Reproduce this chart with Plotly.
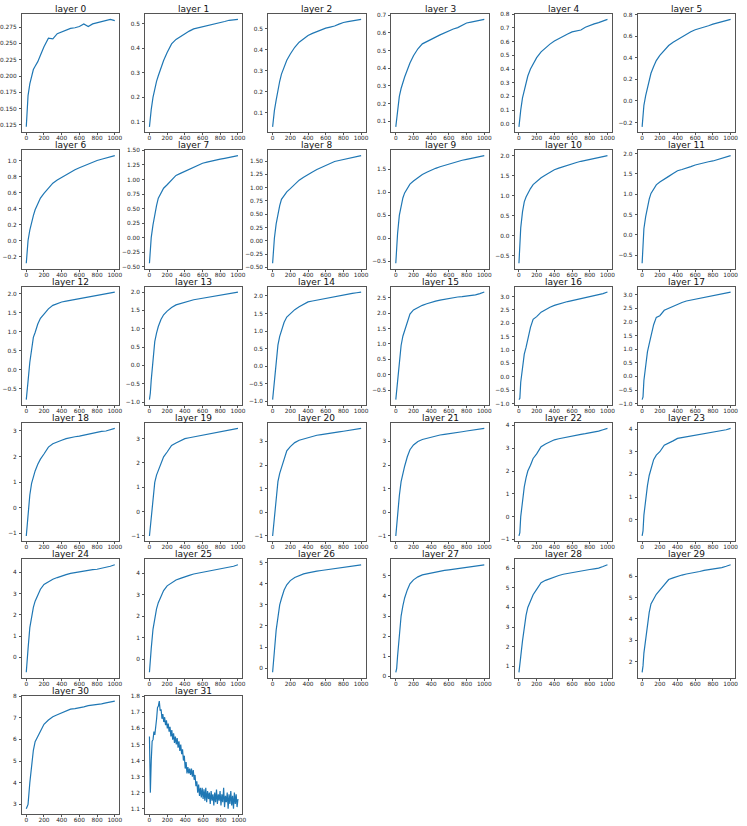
import plotly.graph_objects as go

# training step at which each layer was sampled
steps = [0, 10, 20, 40, 60, 80, 100, 130, 160, 200, 250, 300, 350, 400, 450,
         500, 550, 600, 650, 700, 750, 800, 850, 900, 950, 1000]
steps_dense = list(range(0, 1000, 10))

layer0 = [0.122, 0.150, 0.170, 0.188, 0.200, 0.210, 0.215, 0.222, 0.232, 0.245, 0.258, 0.257, 0.265,
          0.268, 0.271, 0.273, 0.274, 0.276, 0.280, 0.276, 0.280, 0.282, 0.284, 0.285, 0.287, 0.285]
layer1 = [0.080, 0.120, 0.150, 0.200, 0.235, 0.265, 0.288, 0.320, 0.350, 0.383, 0.418, 0.436, 0.448,
          0.459, 0.470, 0.479, 0.483, 0.486, 0.490, 0.496, 0.500, 0.504, 0.509, 0.514, 0.516, 0.518]
layer2 = [0.033, 0.080, 0.110, 0.160, 0.210, 0.250, 0.284, 0.320, 0.350, 0.380, 0.412, 0.436, 0.453,
          0.468, 0.478, 0.487, 0.495, 0.503, 0.508, 0.513, 0.522, 0.530, 0.534, 0.538, 0.541, 0.545]
layer3 = [0.068, 0.120, 0.170, 0.240, 0.285, 0.320, 0.350, 0.390, 0.430, 0.471, 0.510, 0.538, 0.552,
          0.563, 0.576, 0.589, 0.601, 0.614, 0.622, 0.630, 0.645, 0.656, 0.661, 0.666, 0.671, 0.677]
layer4 = [-0.022, 0.050, 0.100, 0.190, 0.250, 0.300, 0.349, 0.400, 0.440, 0.483, 0.525, 0.556, 0.582,
          0.605, 0.624, 0.641, 0.656, 0.671, 0.678, 0.685, 0.705, 0.720, 0.730, 0.739, 0.750, 0.763]
layer5 = [-0.240, -0.120, -0.040, 0.050, 0.130, 0.200, 0.257, 0.320, 0.375, 0.424, 0.475, 0.515, 0.545,
          0.570, 0.597, 0.622, 0.642, 0.661, 0.672, 0.683, 0.698, 0.713, 0.725, 0.737, 0.748, 0.758]
layer6 = [-0.284, -0.100, 0.000, 0.130, 0.230, 0.310, 0.384, 0.460, 0.530, 0.590, 0.660, 0.716, 0.755,
          0.790, 0.825, 0.860, 0.885, 0.910, 0.935, 0.960, 0.980, 1.000, 1.015, 1.030, 1.045, 1.060]
layer7 = [-0.440, -0.150, 0.000, 0.220, 0.400, 0.550, 0.680, 0.780, 0.850, 0.910, 0.995, 1.070, 1.105,
          1.140, 1.175, 1.210, 1.245, 1.280, 1.300, 1.320, 1.335, 1.350, 1.365, 1.380, 1.395, 1.410]
layer8 = [-0.420, -0.100, 0.050, 0.320, 0.520, 0.660, 0.780, 0.860, 0.920, 0.980, 1.060, 1.140, 1.195,
          1.250, 1.295, 1.340, 1.380, 1.420, 1.455, 1.490, 1.510, 1.530, 1.550, 1.570, 1.585, 1.600]
layer9 = [-0.540, -0.200, 0.100, 0.500, 0.720, 0.880, 0.990, 1.100, 1.180, 1.250, 1.330, 1.390, 1.440,
          1.490, 1.525, 1.560, 1.590, 1.620, 1.650, 1.680, 1.700, 1.720, 1.740, 1.760, 1.780, 1.800]
layer10 = [-0.680, -0.200, 0.200, 0.600, 0.850, 0.970, 1.070, 1.180, 1.280, 1.360, 1.450, 1.520, 1.590,
           1.650, 1.690, 1.730, 1.765, 1.800, 1.830, 1.860, 1.880, 1.900, 1.925, 1.950, 1.975, 2.000]
layer11 = [-0.700, -0.250, 0.150, 0.450, 0.680, 0.880, 1.020, 1.140, 1.230, 1.300, 1.380, 1.440, 1.510,
           1.580, 1.610, 1.640, 1.680, 1.720, 1.750, 1.780, 1.800, 1.820, 1.850, 1.880, 1.910, 1.950]
layer12 = [-0.780, -0.600, -0.300, 0.200, 0.600, 0.850, 0.980, 1.200, 1.350, 1.470, 1.600, 1.690, 1.740,
           1.780, 1.800, 1.820, 1.850, 1.880, 1.895, 1.910, 1.935, 1.960, 1.980, 2.000, 2.020, 2.040]
layer13 = [-0.930, -0.750, -0.400, 0.250, 0.650, 0.880, 1.060, 1.250, 1.380, 1.480, 1.580, 1.650, 1.690,
           1.720, 1.755, 1.790, 1.810, 1.830, 1.855, 1.880, 1.895, 1.910, 1.930, 1.950, 1.975, 2.000]
layer14 = [-0.950, -0.700, -0.350, 0.200, 0.600, 0.850, 1.020, 1.250, 1.400, 1.500, 1.610, 1.690, 1.760,
           1.830, 1.855, 1.880, 1.910, 1.940, 1.965, 1.990, 2.005, 2.020, 2.045, 2.070, 2.090, 2.110]
layer15 = [-0.800, -0.500, -0.100, 0.500, 0.950, 1.250, 1.450, 1.750, 1.970, 2.100, 2.180, 2.250, 2.300,
           2.350, 2.385, 2.420, 2.450, 2.480, 2.500, 2.520, 2.535, 2.550, 2.570, 2.590, 2.630, 2.680]
layer16 = [-0.850, -0.800, -0.200, 0.450, 0.850, 1.100, 1.400, 1.850, 2.150, 2.250, 2.420, 2.520, 2.600,
           2.670, 2.725, 2.780, 2.815, 2.850, 2.885, 2.920, 2.960, 3.000, 3.030, 3.060, 3.110, 3.170]
layer17 = [-0.850, -0.750, -0.150, 0.500, 0.900, 1.200, 1.500, 1.900, 2.170, 2.230, 2.430, 2.500, 2.580,
           2.660, 2.715, 2.770, 2.805, 2.840, 2.875, 2.910, 2.940, 2.970, 3.005, 3.040, 3.070, 3.100]
layer18 = [-1.100, -0.700, -0.200, 0.500, 0.950, 1.250, 1.440, 1.700, 1.900, 2.100, 2.370, 2.500, 2.580,
           2.640, 2.700, 2.750, 2.775, 2.800, 2.840, 2.880, 2.925, 2.970, 2.985, 3.000, 3.050, 3.100]
layer19 = [-1.000, -0.600, -0.100, 0.600, 1.200, 1.500, 1.690, 2.000, 2.250, 2.450, 2.720, 2.820, 2.910,
           3.000, 3.035, 3.070, 3.105, 3.140, 3.170, 3.200, 3.240, 3.280, 3.300, 3.320, 3.370, 3.420]
layer20 = [-1.000, -0.600, -0.100, 0.600, 1.300, 1.650, 1.900, 2.300, 2.600, 2.780, 2.950, 3.050, 3.100,
           3.180, 3.220, 3.260, 3.290, 3.310, 3.350, 3.370, 3.400, 3.430, 3.460, 3.480, 3.510, 3.550]
layer21 = [-1.000, -0.500, 0.000, 0.700, 1.300, 1.700, 1.950, 2.350, 2.650, 2.850, 3.000, 3.080, 3.130,
           3.200, 3.240, 3.270, 3.300, 3.320, 3.350, 3.380, 3.410, 3.440, 3.460, 3.490, 3.520, 3.550]
layer22 = [-0.850, -0.700, 0.000, 0.800, 1.300, 1.700, 2.000, 2.250, 2.550, 2.750, 3.070, 3.190, 3.290,
           3.370, 3.415, 3.460, 3.490, 3.520, 3.565, 3.610, 3.640, 3.670, 3.710, 3.750, 3.810, 3.870]
layer23 = [-0.720, -0.500, 0.200, 1.000, 1.500, 1.950, 2.260, 2.650, 2.850, 3.000, 3.290, 3.370, 3.480,
           3.590, 3.625, 3.660, 3.695, 3.730, 3.755, 3.780, 3.810, 3.840, 3.875, 3.910, 3.970, 4.030]
layer24 = [-0.700, -0.300, 0.400, 1.400, 2.000, 2.350, 2.640, 2.950, 3.200, 3.430, 3.560, 3.670, 3.750,
           3.830, 3.890, 3.950, 3.990, 4.030, 4.065, 4.100, 4.120, 4.140, 4.180, 4.220, 4.280, 4.350]
layer25 = [-0.600, -0.200, 0.500, 1.400, 2.000, 2.350, 2.640, 2.950, 3.200, 3.420, 3.560, 3.690, 3.770,
           3.850, 3.910, 3.970, 4.010, 4.050, 4.090, 4.130, 4.170, 4.210, 4.235, 4.260, 4.330, 4.400]
layer26 = [-0.200, 0.200, 0.800, 1.800, 2.500, 3.000, 3.300, 3.700, 3.950, 4.150, 4.300, 4.400, 4.470,
           4.520, 4.570, 4.600, 4.630, 4.660, 4.700, 4.720, 4.750, 4.780, 4.800, 4.830, 4.860, 4.900]
layer27 = [0.200, 0.400, 1.000, 2.200, 3.000, 3.500, 3.900, 4.300, 4.600, 4.800, 4.950, 5.050, 5.100,
           5.150, 5.200, 5.230, 5.270, 5.300, 5.330, 5.360, 5.380, 5.410, 5.440, 5.470, 5.500, 5.550]
layer28 = [0.700, 1.000, 1.500, 2.300, 3.000, 3.600, 4.000, 4.350, 4.650, 4.920, 5.260, 5.380, 5.470,
           5.560, 5.625, 5.690, 5.735, 5.780, 5.820, 5.860, 5.895, 5.930, 5.965, 6.000, 6.080, 6.170]
layer29 = [1.500, 1.800, 2.400, 3.100, 3.700, 4.300, 4.700, 4.950, 5.150, 5.350, 5.600, 5.840, 5.920,
           6.000, 6.050, 6.100, 6.130, 6.160, 6.215, 6.270, 6.295, 6.320, 6.360, 6.400, 6.460, 6.530]
layer30 = [2.800, 2.900, 3.000, 4.000, 4.900, 5.500, 5.900, 6.150, 6.400, 6.700, 6.900, 7.050, 7.140,
           7.230, 7.315, 7.400, 7.425, 7.450, 7.505, 7.560, 7.580, 7.600, 7.645, 7.690, 7.730, 7.770]
# the last layer is noisy, sampled every 10 steps
layer31 = [1.55, 1.20, 1.40, 1.52, 1.53, 1.58, 1.56, 1.64, 1.66, 1.73,
           1.74, 1.77, 1.71, 1.72, 1.66, 1.69, 1.64, 1.67, 1.62, 1.65,
           1.60, 1.63, 1.58, 1.61, 1.55, 1.59, 1.53, 1.57, 1.51, 1.55,
           1.50, 1.54, 1.48, 1.52, 1.46, 1.50, 1.44, 1.47, 1.40, 1.43,
           1.35, 1.39, 1.32, 1.36, 1.32, 1.35, 1.31, 1.35, 1.30, 1.34,
           1.28, 1.31, 1.24, 1.27, 1.20, 1.25, 1.18, 1.23, 1.17, 1.23,
           1.16, 1.22, 1.15, 1.23, 1.14, 1.21, 1.16, 1.20, 1.13, 1.21,
           1.15, 1.19, 1.12, 1.20, 1.14, 1.22, 1.13, 1.19, 1.15, 1.21,
           1.12, 1.19, 1.14, 1.23, 1.11, 1.18, 1.14, 1.20, 1.10, 1.19,
           1.13, 1.21, 1.12, 1.18, 1.10, 1.20, 1.13, 1.19, 1.11, 1.16]

layers = [layer0, layer1, layer2, layer3, layer4, layer5, layer6, layer7, layer8, layer9,
          layer10, layer11, layer12, layer13, layer14, layer15, layer16, layer17, layer18, layer19,
          layer20, layer21, layer22, layer23, layer24, layer25, layer26, layer27, layer28, layer29,
          layer30, layer31]

# y tick spacing and label format of every panel
y_dtick = [0.025, 0.1, 0.1, 0.1, 0.1, 0.2, 0.2, 0.25, 0.25, 0.5,
           0.5, 0.5, 0.5, 0.5, 0.5, 0.5, 0.5, 0.5, 1, 1,
           1, 1, 1, 1, 1, 1, 1, 1, 1, 1,
           1, 0.1]
y_format = [".3f", ".1f", ".1f", ".1f", ".1f", ".1f", ".1f", ".2f", ".2f", ".1f",
            ".1f", ".1f", ".1f", ".1f", ".1f", ".1f", ".1f", ".1f", "d", "d",
            "d", "d", "d", "d", "d", "d", "d", "d", "d", "d",
            "d", ".1f"]

W, H = 747, 826
COL_LEFT = 21
COL_STEP = 124
PANEL_W = 98
ROW_TOP = 11
ROW_STEP = 137.2
PANEL_H = 119


def padded(values: list) -> list:
    """Matplotlib style 5% margin around the data."""
    lo, hi = min(values), max(values)
    pad = (hi - lo) * 0.05
    return [lo - pad, hi + pad]


fig = go.Figure()
axis_style = dict(
    showgrid=False, zeroline=False, showline=True, mirror=True,
    linecolor="#555", linewidth=1, ticks="outside", ticklen=2,
    tickcolor="#555", tickangle=0,
    tickfont=dict(family="DejaVu Sans", size=5.8, color="#222"),
)

for i, ys in enumerate(layers):
    row, col = divmod(i, 6)
    xs = steps_dense if i == 31 else steps
    left = COL_LEFT + col * COL_STEP
    top = ROW_TOP + row * ROW_STEP
    xdom = [left / W, (left + PANEL_W) / W]
    ydom = [1 - (top + PANEL_H) / H, 1 - top / H]
    suffix = "" if i == 0 else str(i + 1)

    fig.add_trace(go.Scatter(
        x=xs, y=ys, mode="lines",
        line=dict(color="#1f77b4", width=1.2),
        xaxis="x" + suffix, yaxis="y" + suffix, showlegend=False,
    ))
    fig.layout["xaxis" + suffix] = dict(
        axis_style, domain=xdom, anchor="y" + suffix,
        range=padded(xs), tick0=0, dtick=200, ticklabelstandoff=-2,
    )
    fig.layout["yaxis" + suffix] = dict(
        axis_style, domain=ydom, anchor="x" + suffix,
        range=padded(ys), tick0=0, dtick=y_dtick[i], tickformat=y_format[i],
        ticklabelstandoff=1,
    )
    fig.add_annotation(
        text="layer %d" % i, xref="paper", yref="paper",
        x=(xdom[0] + xdom[1]) / 2, y=ydom[1], xanchor="center", yanchor="bottom",
        showarrow=False, yshift=-2,
        font=dict(family="DejaVu Sans", size=9, color="#111"),
    )

fig.update_layout(
    width=W, height=H, margin=dict(l=0, r=0, t=0, b=0),
    paper_bgcolor="white", plot_bgcolor="white",
)

# drop the browser's default body margin so the figure sits at the page corner
fig.write_html("out.html", config={"displayModeBar": False},
               post_script="document.body.style.margin = '0';")
